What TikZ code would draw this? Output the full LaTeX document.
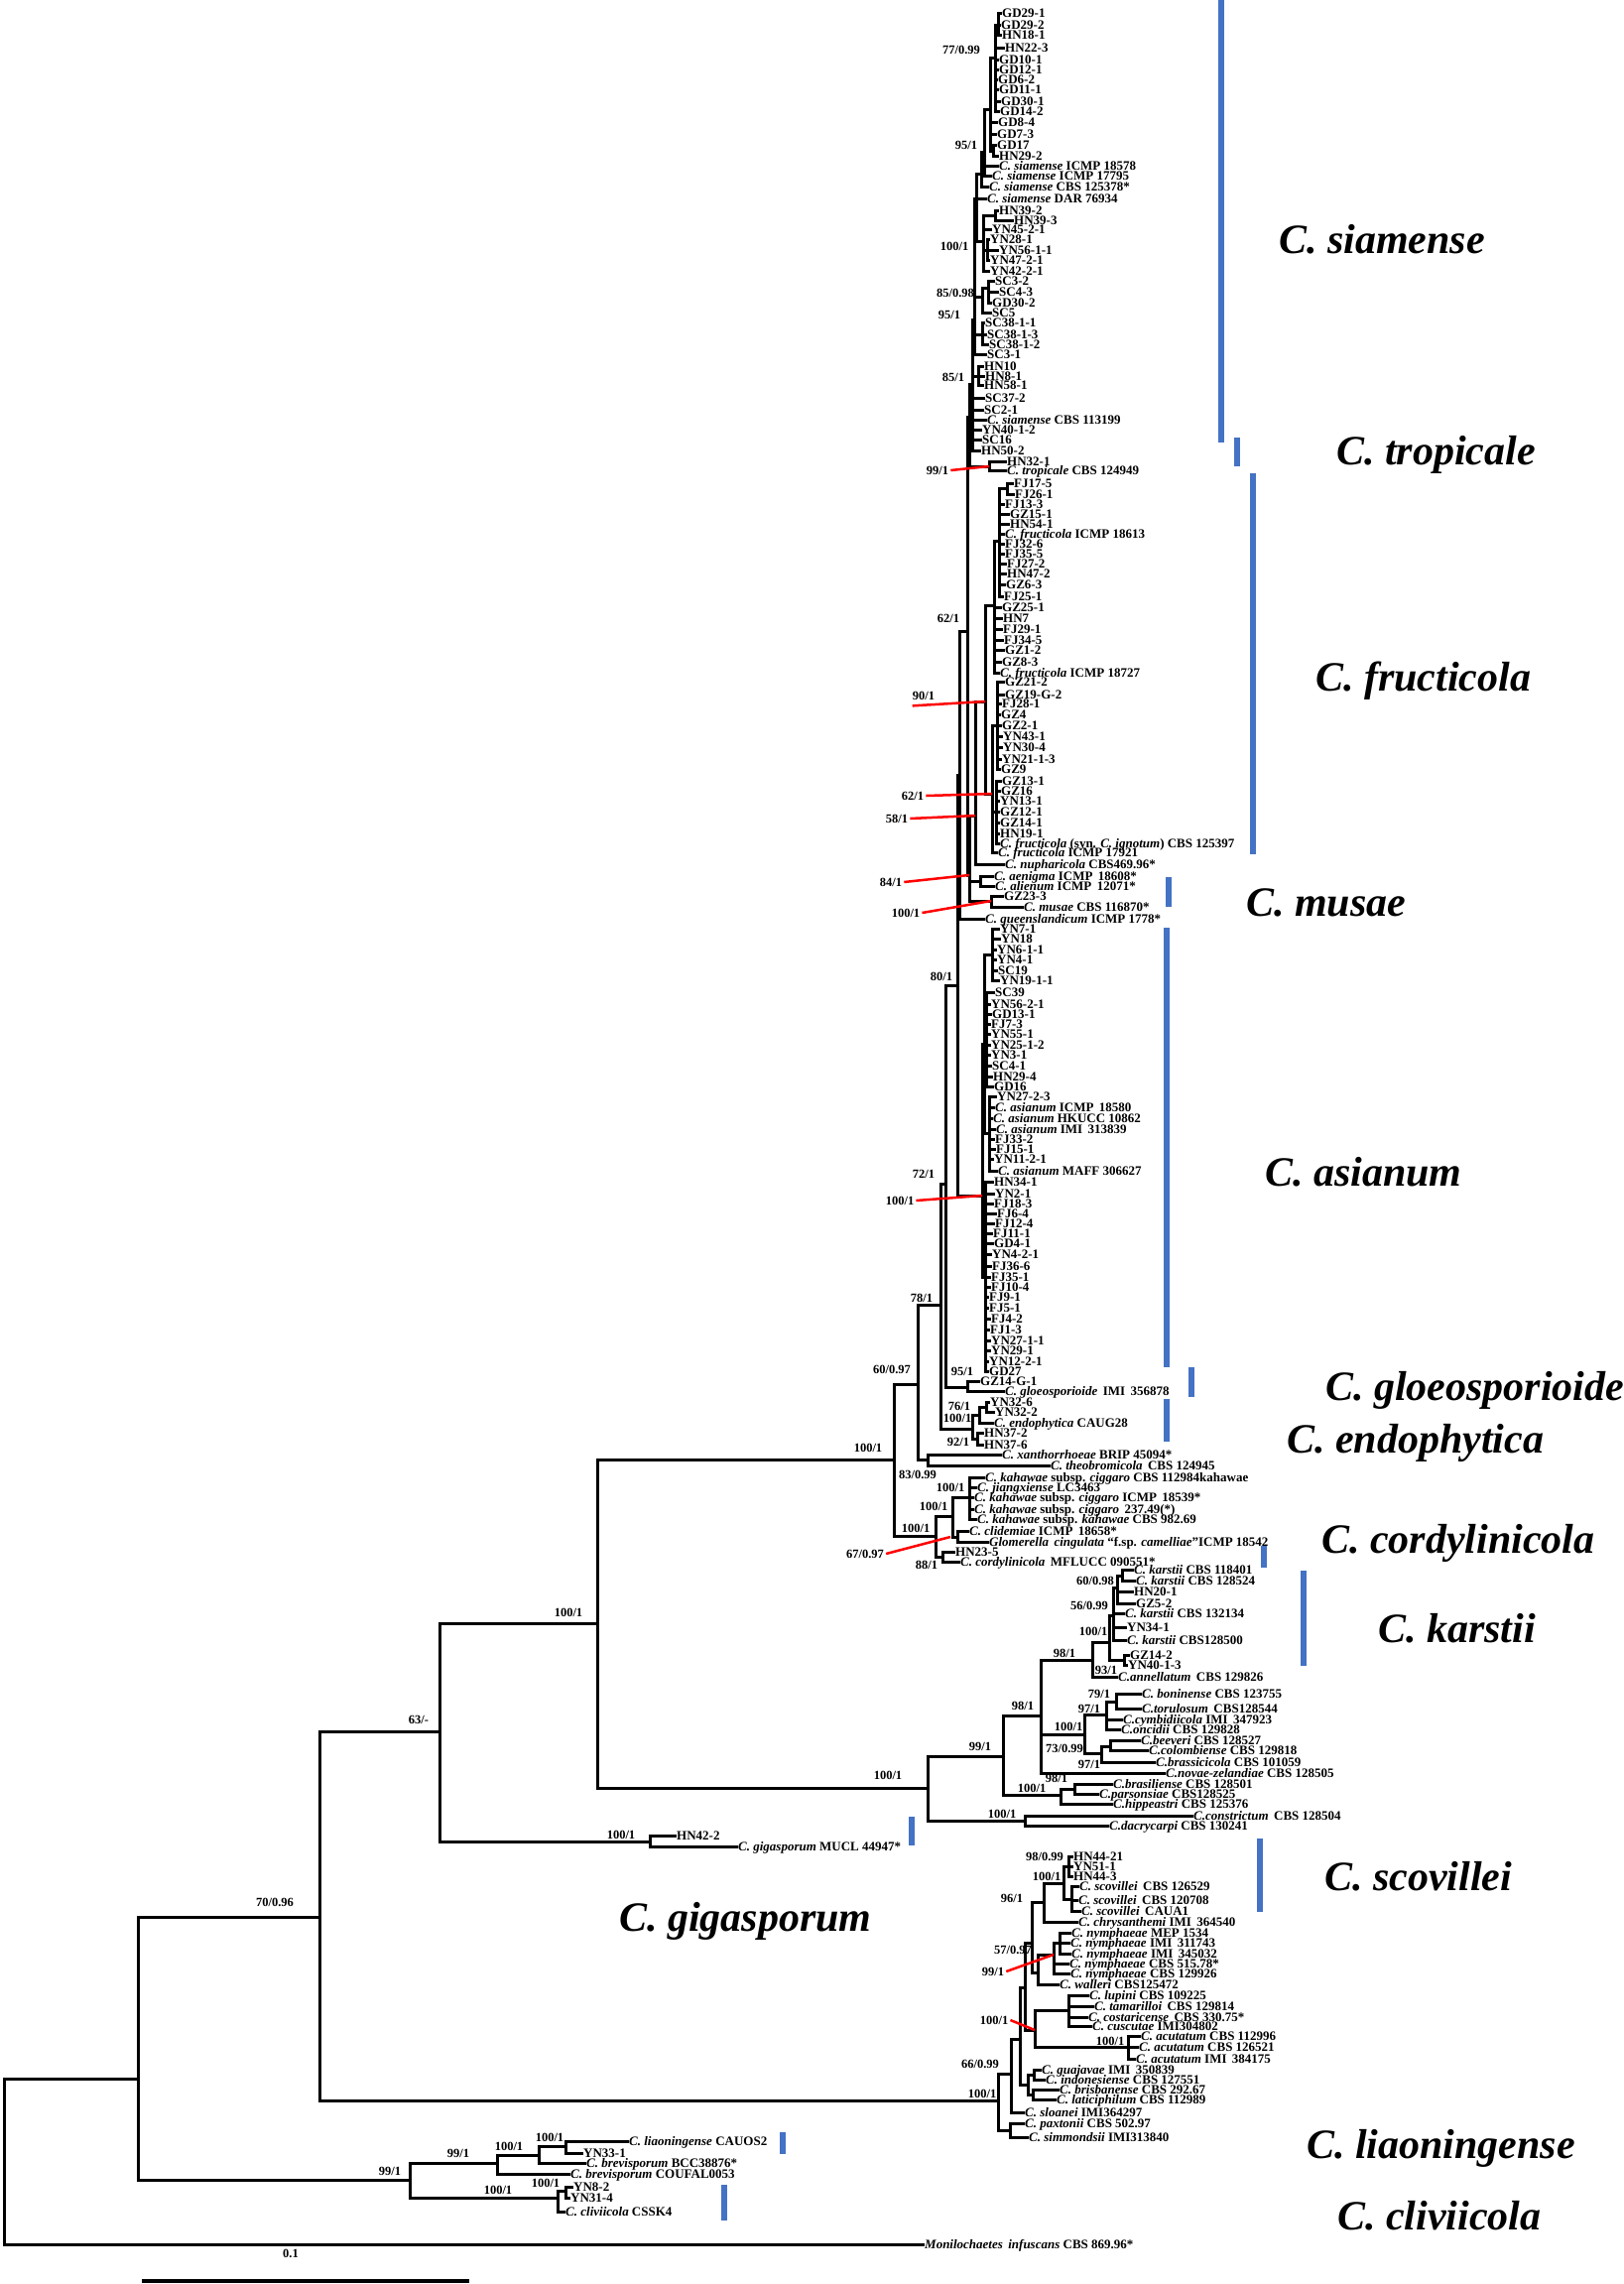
\documentclass[tikz,border=0pt]{standalone}
\usepackage{fontspec}
\setmainfont{Liberation Serif}
\definecolor{barblue}{RGB}{68,114,196}
\newcommand{\tipfont}{\fontsize{13pt}{13pt}\selectfont\bfseries}
\newcommand{\supfont}{\fontsize{12.5pt}{12.5pt}\selectfont\bfseries}
\newcommand{\cladefont}{\fontsize{42pt}{42pt}\selectfont\bfseries\itshape}
\newcommand{\intn}[4]{\coordinate (#1) at (#2,#3); \draw[br] (#4) |- (#1);}
\newcommand{\tipn}[5]{\node[tip] (#1) at (#2,#3) {#5}; \draw[br] (#4) |- (#1.west);}
\newcommand{\bsl}[4]{\node[bs] (#1) at (#2,#3) {#4};}
\tikzset{
 br/.style={line width=3pt, line cap=rect, line join=miter},
 tip/.style={anchor=west, inner sep=2pt, font=\tipfont, text height=8.6pt, text depth=0pt},
 bs/.style={inner sep=0pt, font=\supfont, text height=8.3pt, text depth=0pt},
 clade/.style={anchor=west, inner sep=0pt, font=\cladefont, text height=27.7pt, text depth=0pt},
 redl/.style={draw=red, line width=2.5pt},
 cbar/.style={fill=barblue}
}
\begin{document}
\begin{tikzpicture}[x=1pt,y=-1pt]
\fill[white] (0,0) rectangle (1636,2302);
\useasboundingbox (0,0) rectangle (1636,2302);
% ---------- backbone ----------
\coordinate (root) at (4,2177);
\intn{n140}{139}{2095}{root}
\tipn{moni}{930}{2262}{root}{\textit{Monilochaetes\, infuscans} CBS 869.96*}
\intn{n322}{322}{1932}{n140}
\intn{nlc}{413}{2197}{n140}
\intn{n443}{443}{1745}{n322}
\intn{a0}{1006}{2117}{n322}
\intn{n602}{602}{1636}{n443}
\intn{ngig}{655}{1856}{n443}
\tipn{hn422}{680}{1850}{ngig}{HN42-2}
\tipn{gigas}{742}{1861}{ngig}{\textit{C. gigasporum} MUCL 44947*}
\intn{n901}{901}{1471}{n602}
\intn{n935b}{935}{1802}{n602}
\intn{n925}{925}{1395}{n901}
\intn{nkah}{943}{1548}{n901}
\intn{n948}{948}{1315}{n925}
\intn{n83}{935}{1471}{n925}
\tipn{xan}{1008}{1466}{n83}{\textit{C. xanthorrhoeae} BRIP 45094*}
\tipn{theo}{1057}{1477}{n83}{\textit{C. theobromicola}\, CBS 124945}
\intn{n953}{953}{1193}{n948}
\intn{nendo}{980}{1440}{n948}
\intn{n965}{965}{993}{n953}
\intn{ngl}{975}{1398}{n953}
\tipn{gz14g}{986}{1392}{ngl}{GZ14-G-1}
\tipn{gloeo}{1011}{1402}{ngl}{\textit{C. gloeosporioide}\, IMI\, 356878}
\intn{nend1}{987}{1426}{nendo}
\intn{nhn37}{985}{1450}{nendo}
\intn{nyn32}{994}{1418}{nend1}
\tipn{yn326}{996}{1413}{nyn32}{YN32-6}
\tipn{yn322}{1001}{1423}{nyn32}{YN32-2}
\tipn{endo}{1000}{1434}{nend1}{\textit{C. endophytica} CAUG28}
\tipn{hn372}{990}{1444}{nhn37}{HN37-2}
\tipn{hn376}{990}{1456}{nhn37}{HN37-6}
% ---------- kahawae group ----------
\intn{nk1}{960}{1528}{nkah}
\intn{nk2}{950}{1569}{nkah}
\intn{nk3}{977}{1509}{nk1}
\intn{nk4}{965}{1549}{nk1}
\tipn{kah1}{991}{1489}{nk3}{\textit{C. kahawae} subsp. \textit{ciggaro} CBS 112984kahawae}
\tipn{jiang}{983}{1499}{nk3}{\textit{C. jiangxiense} LC3463}
\tipn{kah2}{980}{1509}{nk3}{\textit{C. kahawae} subsp. \textit{ciggaro} ICMP\, 18539*}
\tipn{kah3}{980}{1521}{nk3}{\textit{C. kahawae} subsp. \textit{ciggaro}\, 237.49(*)}
\tipn{kah4}{983}{1531}{nk3}{\textit{C. kahawae} subsp. \textit{kahawae} CBS 982.69}
\tipn{clid}{975}{1543}{nk4}{\textit{C. clidemiae} ICMP\, 18658*}
\tipn{glom}{995}{1554}{nk4}{\textit{Glomerella\, cingulata} “f.sp. \textit{camelliae}”ICMP 18542}
\tipn{hn235}{961}{1564}{nk2}{HN23-5}
\tipn{cord}{966}{1574}{nk2}{\textit{C. cordylinicola}\, MFLUCC 090551*}
% ---------- upper clades ----------
\intn{nq}{967}{781}{n965}
\intn{nasia}{990}{1205}{n965}
\intn{n62}{975}{636}{nq}
\tipn{queens}{991}{926}{nq}{\textit{C. queenslandicum} ICMP 1778*}
\intn{nsr}{977}{420}{n62}
\intn{n84}{977}{882}{n62}
% siamense
\intn{s85}{980}{387}{nsr}
\intn{ntrop}{997}{470}{nsr}
\tipn{hn321}{1013}{465}{ntrop}{HN32-1}
\tipn{trop}{1013}{474}{ntrop}{\textit{C. tropicale} CBS 124949}
\intn{s95b}{982}{322}{s85}
\intn{shn}{986}{379}{s85}
\tipn{sc372}{991}{401}{s85}{SC37-2}
\tipn{sc21}{990}{413}{s85}{SC2-1}
\tipn{sia5}{993}{423}{s85}{\textit{C. siamense} CBS 113199}
\tipn{yn4012}{988}{433}{s85}{YN40-1-2}
\tipn{sc16}{988}{443}{s85}{SC16}
\tipn{hn502}{987}{454}{s85}{HN50-2}
\tipn{hn10}{990}{369}{shn}{HN10}
\tipn{hn81}{991}{379}{shn}{HN8-1}
\tipn{hn581}{990}{388}{shn}{HN58-1}
\intn{stop}{984}{200}{s95b}
\intn{s85a}{990}{299}{s95b}
\intn{ssc38}{990}{337}{s95b}
\tipn{sc31}{993}{357}{s95b}{SC3-1}
\tipn{sc3811}{991}{325}{ssc38}{SC38-1-1}
\tipn{sc3813}{993}{337}{ssc38}{SC38-1-3}
\tipn{sc3812}{995}{347}{ssc38}{SC38-1-2}
\intn{ssc}{996}{290}{s85a}
\tipn{sc5}{998}{315}{s85a}{SC5}
\tipn{sc32}{1001}{283}{ssc}{SC3-2}
\tipn{sc43}{1005}{294}{ssc}{SC4-3}
\tipn{gd302}{998}{305}{ssc}{GD30-2}
\intn{sca}{989}{175}{stop}
\tipn{dar}{993}{200}{stop}{\textit{C. siamense} DAR 76934}
\intn{s100b}{991}{243}{stop}
\intn{s95a}{992}{153}{sca}
\tipn{sia3}{995}{188}{sca}{\textit{C. siamense} CBS 125378*}
\intn{s100}{998}{110}{s95a}
\tipn{sia1}{1005}{167}{s95a}{\textit{C. siamense} ICMP 18578}
\tipn{sia2}{998}{177}{s95a}{\textit{C. siamense} ICMP 17795}
\intn{s77}{1003}{58}{s100}
\tipn{gd84}{1004}{123}{s100}{GD8-4}
\tipn{gd73}{1003}{135}{s100}{GD7-3}
\intn{sgd17}{1001}{152}{s100}
\tipn{gd17}{1003}{146}{sgd17}{GD17}
\tipn{hn292}{1005}{157}{sgd17}{HN29-2}
\intn{sa}{1006}{25}{s77}
\tipn{gd291}{1008}{13}{sa}{GD29-1}
\tipn{gd292}{1007}{25}{sa}{GD29-2}
\tipn{hn181}{1008}{35}{sa}{HN18-1}
\tipn{hn223}{1011}{48}{s77}{HN22-3}
\tipn{gd101}{1005}{60}{s77}{GD10-1}
\tipn{gd121}{1005}{70}{s77}{GD12-1}
\tipn{gd62}{1004}{80}{s77}{GD6-2}
\tipn{gd111}{1005}{90}{s77}{GD11-1}
\tipn{gd301}{1007}{102}{s77}{GD30-1}
\tipn{gd142}{1006}{112}{s77}{GD14-2}
\intn{shn39}{1003}{217}{s100b}
\tipn{yn4521}{998}{231}{s100b}{YN45-2-1}
\intn{syn}{995}{252}{s100b}
\tipn{yn4221}{996}{273}{s100b}{YN42-2-1}
\tipn{hn392}{1005}{212}{shn39}{HN39-2}
\tipn{hn393}{1020}{222}{shn39}{HN39-3}
\tipn{yn281}{996}{241}{syn}{YN28-1}
\tipn{yn5611}{1005}{252}{syn}{YN56-1-1}
\tipn{yn4721}{996}{262}{syn}{YN47-2-1}
% fructicola / musae
\intn{n58}{983}{822}{n84}
\intn{nal}{988}{888}{n84}
\intn{nmus}{999}{908}{n84}
\tipn{aen}{1000}{883}{nal}{\textit{C. aenigma} ICMP\, 18608*}
\tipn{ali}{1001}{893}{nal}{\textit{C. alienum} ICMP\, 12071*}
\tipn{gz233}{1010}{903}{nmus}{GZ23-3}
\tipn{musae}{1030}{914}{nmus}{\textit{C. musae} CBS 116870*}
\intn{f90}{993}{707}{n58}
\tipn{nuph}{1011}{871}{n58}{\textit{C. nupharicola} CBS469.96*}
\intn{fb}{1002}{610}{f90}
\intn{f62}{1000}{800}{f90}
\intn{fa}{1007}{545}{fb}
\tipn{gz251}{1008}{612}{fb}{GZ25-1}
\tipn{hn7}{1009}{623}{fb}{HN7}
\tipn{fj291}{1009}{634}{fb}{FJ29-1}
\tipn{fj345}{1010}{645}{fb}{FJ34-5}
\tipn{gz12}{1011}{655}{fb}{GZ1-2}
\tipn{gz83}{1008}{667}{fb}{GZ8-3}
\tipn{fru2}{1006}{678}{fb}{\textit{C. fructicola} ICMP 18727}
\intn{fa1}{1015}{492}{fa}
\tipn{fj175}{1020}{487}{fa1}{FJ17-5}
\tipn{fj261}{1021}{498}{fa1}{FJ26-1}
\tipn{fj133}{1011}{508}{fa}{FJ13-3}
\tipn{gz151}{1016}{518}{fa}{GZ15-1}
\tipn{hn541}{1016}{528}{fa}{HN54-1}
\tipn{fru1}{1011}{538}{fa}{\textit{C. fructicola} ICMP 18613}
\tipn{fj326}{1011}{548}{fa}{FJ32-6}
\tipn{fj355}{1011}{558}{fa}{FJ35-5}
\tipn{fj272}{1013}{568}{fa}{FJ27-2}
\tipn{hn472}{1013}{578}{fa}{HN47-2}
\tipn{gz63}{1012}{589}{fa}{GZ6-3}
\tipn{fj251}{1010}{601}{fa}{FJ25-1}
\intn{fc1}{1005}{731}{f62}
\intn{fc2}{1004}{818}{f62}
\tipn{fru4}{1004}{859}{f62}{\textit{C. fructicola} ICMP 17921}
\tipn{gz212}{1011}{687}{fc1}{GZ21-2}
\tipn{gz19g2}{1011}{700}{fc1}{GZ19-G-2}
\tipn{fj281}{1008}{709}{fc1}{FJ28-1}
\tipn{gz4}{1007}{720}{fc1}{GZ4}
\tipn{gz21}{1008}{731}{fc1}{GZ2-1}
\tipn{yn431}{1009}{742}{fc1}{YN43-1}
\tipn{yn304}{1009}{753}{fc1}{YN30-4}
\tipn{yn2113}{1008}{765}{fc1}{YN21-1-3}
\tipn{gz9}{1007}{775}{fc1}{GZ9}
\tipn{gz131}{1008}{787}{fc2}{GZ13-1}
\tipn{gz16}{1007}{797}{fc2}{GZ16}
\tipn{yn131}{1006}{807}{fc2}{YN13-1}
\tipn{gz121}{1006}{818}{fc2}{GZ12-1}
\tipn{gz141}{1006}{829}{fc2}{GZ14-1}
\tipn{hn191}{1006}{840}{fc2}{HN19-1}
\tipn{fru3}{1006}{850}{fc2}{\textit{C. fructicola} (syn. \textit{C. ignotum}) CBS 125397}
% asianum
\intn{as1}{992}{1052}{nasia}
\intn{as2}{993}{1287}{nasia}
\intn{asa}{1000}{962}{as1}
\intn{asb}{994}{1048}{as1}
\intn{asc}{997}{1142}{as1}
\tipn{yn71}{1006}{936}{asa}{YN7-1}
\tipn{yn18}{1007}{946}{asa}{YN18}
\tipn{yn611}{1003}{957}{asa}{YN6-1-1}
\tipn{yn41}{1003}{967}{asa}{YN4-1}
\tipn{sc19}{1004}{978}{asa}{SC19}
\tipn{yn1911}{1006}{988}{asa}{YN19-1-1}
\tipn{sc39}{1001}{1000}{asb}{SC39}
\tipn{yn5621}{997}{1012}{asb}{YN56-2-1}
\tipn{gd131}{998}{1022}{asb}{GD13-1}
\tipn{fj73}{997}{1032}{asb}{FJ7-3}
\tipn{yn551}{997}{1042}{asb}{YN55-1}
\tipn{yn2512}{997}{1053}{asb}{YN25-1-2}
\tipn{yn31}{997}{1063}{asb}{YN3-1}
\tipn{sc41}{998}{1074}{asb}{SC4-1}
\tipn{hn294}{999}{1085}{asb}{HN29-4}
\tipn{gd16}{1000}{1095}{asb}{GD16}
\tipn{yn2723}{1003}{1105}{asc}{YN27-2-3}
\tipn{asi1}{1001}{1116}{asc}{\textit{C. asianum} ICMP\, 18580}
\tipn{asi2}{999}{1127}{asc}{\textit{C. asianum} HKUCC 10862}
\tipn{asi3}{1002}{1138}{asc}{\textit{C. asianum} IMI\, 313839}
\tipn{fj332}{1001}{1148}{asc}{FJ33-2}
\tipn{fj151}{1002}{1158}{asc}{FJ15-1}
\tipn{yn1121}{1000}{1168}{asc}{YN11-2-1}
\tipn{asi4}{1004}{1180}{asc}{\textit{C. asianum} MAFF 306627}
\tipn{hn341}{1000}{1191}{as2}{HN34-1}
\tipn{yn21}{1001}{1203}{as2}{YN2-1}
\tipn{fj183}{1000}{1213}{as2}{FJ18-3}
\tipn{fj64}{1003}{1223}{as2}{FJ6-4}
\tipn{fj124}{1001}{1233}{as2}{FJ12-4}
\tipn{fj111}{999}{1243}{as2}{FJ11-1}
\tipn{gd41}{1000}{1253}{as2}{GD4-1}
\tipn{yn421}{998}{1264}{as2}{YN4-2-1}
\tipn{fj366}{998}{1276}{as2}{FJ36-6}
\tipn{fj351}{997}{1287}{as2}{FJ35-1}
\tipn{fj104}{997}{1297}{as2}{FJ10-4}
\tipn{fj91}{995}{1307}{as2}{FJ9-1}
\tipn{fj51}{995}{1318}{as2}{FJ5-1}
\tipn{fj42}{997}{1329}{as2}{FJ4-2}
\tipn{fj13}{996}{1340}{as2}{FJ1-3}
\tipn{yn2711}{997}{1351}{as2}{YN27-1-1}
\tipn{yn291}{997}{1361}{as2}{YN29-1}
\tipn{yn1221}{995}{1372}{as2}{YN12-2-1}
\tipn{gd27}{995}{1382}{as2}{GD27}
% ---------- boninense / karstii ----------
\intn{n1011}{1011}{1770}{n935b}
\intn{n1033}{1033}{1835}{n935b}
\tipn{constr}{1201}{1830}{n1033}{\textit{C.constrictum}\, CBS 128504}
\tipn{dacry}{1116}{1840}{n1033}{\textit{C.dacrycarpi} CBS 130241}
\intn{n1049}{1049}{1729}{n1011}
\intn{n1069}{1069}{1809}{n1011}
\intn{n1083}{1083}{1803}{n1069}
\tipn{hipp}{1120}{1818}{n1069}{\textit{C.hippeastri} CBS 125376}
\tipn{brasil}{1120}{1798}{n1083}{\textit{C.brasiliense} CBS 128501}
\tipn{parson}{1106}{1808}{n1083}{\textit{C.parsonsiae} CBS128525}
\intn{n1101}{1101}{1673}{n1049}
\intn{n1093}{1093}{1748}{n1049}
\tipn{novae}{1173}{1787}{n1049}{\textit{C.novae-zelandiae} CBS 128505}
\intn{n1115}{1115}{1728}{n1093}
\intn{n1110}{1110}{1767}{n1093}
\intn{n1125}{1125}{1715}{n1115}
\tipn{cymb}{1130}{1733}{n1115}{\textit{C.cymbidiicola} IMI\, 347923}
\tipn{oncid}{1128}{1743}{n1115}{\textit{C.oncidii} CBS 129828}
\tipn{bonin}{1149}{1707}{n1125}{\textit{C. boninense} CBS 123755}
\tipn{torul}{1149}{1722}{n1125}{\textit{C.torulosum}\, CBS128544}
\intn{n1119b}{1119}{1760}{n1110}
\tipn{brass}{1163}{1776}{n1110}{\textit{C.brassicicola} CBS 101059}
\tipn{beev}{1148}{1754}{n1119b}{\textit{C.beeveri} CBS 128527}
\tipn{colom}{1156}{1764}{n1119b}{\textit{C.colombiense} CBS 129818}
\intn{nk0}{1118}{1655}{n1101}
\tipn{annel}{1125}{1690}{n1101}{\textit{C.annellatum}\, CBS 129826}
\intn{nkgz}{1133}{1673}{nk0}
\tipn{gz142}{1137}{1668}{nkgz}{GZ14-2}
\tipn{yn4013}{1135}{1678}{nkgz}{YN40-1-3}
\intn{nkk1}{1122}{1628}{nk0}
\intn{nkk2}{1126}{1600}{nkk1}
\tipn{kar3}{1132}{1626}{nkk1}{\textit{C. karstii} CBS 132134}
\tipn{yn341}{1134}{1640}{nkk1}{YN34-1}
\tipn{kar4}{1134}{1653}{nkk1}{\textit{C. karstii} CBS128500}
\intn{nkk3}{1131}{1588}{nkk2}
\tipn{hn201}{1141}{1604}{nkk2}{HN20-1}
\tipn{gz52}{1143}{1616}{nkk2}{GZ5-2}
\tipn{kar1}{1141}{1582}{nkk3}{\textit{C. karstii} CBS 118401}
\tipn{kar2}{1143}{1593}{nkk3}{\textit{C. karstii} CBS 128524}
% ---------- acutatum complex ----------
\intn{a1}{1019}{2090}{a0}
\intn{apax}{1018}{2147}{a0}
\tipn{paxt}{1031}{2140}{apax}{\textit{C. paxtonii} CBS 502.97}
\tipn{simm}{1035}{2154}{apax}{\textit{C. simmondsii} IMI313840}
\intn{a2}{1028}{2055}{a1}
\tipn{sloan}{1031}{2129}{a1}{\textit{C. sloanei} IMI364297}
\intn{a3}{1033}{2003}{a2}
\intn{aguaj}{1036}{2101}{a2}
\intn{ag1}{1042}{2091}{aguaj}
\intn{ag2}{1041}{2111}{aguaj}
\tipn{guaj}{1048}{2086}{ag1}{\textit{C. guajavae} IMI\, 350839}
\tipn{indon}{1052}{2096}{ag1}{\textit{C. indonesiense} CBS 127551}
\tipn{brisb}{1066}{2106}{ag2}{\textit{C. brisbanense} CBS 292.67}
\tipn{latic}{1063}{2116}{ag2}{\textit{C. laticiphilum} CBS 112989}
\intn{a4}{1040}{1958}{a3}
\intn{alup}{1043}{2046}{a3}
\intn{alup1}{1077}{2026}{alup}
\intn{aacu}{1137}{2063}{alup}
\tipn{lupini}{1096}{2011}{alup1}{\textit{C. lupini} CBS 109225}
\tipn{tamar}{1101}{2022}{alup1}{\textit{C. tamarilloi}\, CBS 129814}
\tipn{costa}{1095}{2033}{alup1}{\textit{C. costaricense}\, CBS 330.75*}
\tipn{cuscu}{1099}{2042}{alup1}{\textit{C. cuscutae} IMI304802}
\tipn{acu1}{1148}{2052}{aacu}{\textit{C. acutatum} CBS 112996}
\tipn{acu2}{1146}{2063}{aacu}{\textit{C. acutatum} CBS 126521}
\tipn{acu3}{1143}{2075}{aacu}{\textit{C. acutatum} IMI\, 384175}
\intn{a5}{1052}{1917}{a4}
\intn{a6}{1046}{1988}{a4}
\intn{asco}{1072}{1898}{a5}
\tipn{chrys}{1085}{1937}{a5}{\textit{C. chrysanthemi} IMI\, 364540}
\intn{asco1}{1077}{1881}{asco}
\intn{asco2}{1080}{1914}{asco}
\tipn{hn4421}{1080}{1871}{asco1}{HN44-21}
\tipn{yn511}{1080}{1881}{asco1}{YN51-1}
\tipn{hn443}{1080}{1891}{asco1}{HN44-3}
\tipn{sco1}{1086}{1901}{asco2}{\textit{C. scovillei}\, CBS 126529}
\tipn{sco2}{1085}{1915}{asco2}{\textit{C. scovillei}\, CBS 120708}
\tipn{sco3}{1088}{1926}{asco2}{\textit{C. scovillei}\, CAUA1}
\intn{anym}{1062}{1970}{a6}
\tipn{walleri}{1066}{2000}{a6}{\textit{C. walleri} CBS125472}
\intn{anym1}{1068}{1958}{anym}
\tipn{nym1}{1078}{1948}{anym1}{\textit{C. nymphaeae} MEP 1534}
\tipn{nym2}{1077}{1958}{anym1}{\textit{C. nymphaeae} IMI\, 311743}
\tipn{nym3}{1078}{1969}{anym1}{\textit{C. nymphaeae} IMI\, 345032}
\tipn{nym4}{1076}{1979}{anym}{\textit{C. nymphaeae} CBS 515.78*}
\tipn{nym5}{1077}{1989}{anym}{\textit{C. nymphaeae} CBS 129926}
% ---------- liaoningense / cliviicola ----------
\intn{nl1}{501}{2180}{nlc}
\intn{ncl}{562}{2215}{nlc}
\intn{nl2}{543}{2172}{nl1}
\tipn{brev2}{573}{2191}{nl1}{\textit{C. brevisporum} COUFAL0053}
\intn{nl3}{570}{2163}{nl2}
\tipn{brev1}{589}{2180}{nl2}{\textit{C. brevisporum} BCC38876*}
\tipn{liao}{632}{2158}{nl3}{\textit{C. liaoningense} CAUOS2}
\tipn{yn331}{586}{2170}{nl3}{YN33-1}
\intn{ncl1}{570}{2208}{ncl}
\tipn{cliv}{568}{2229}{ncl}{\textit{C. cliviicola} CSSK4}
\tipn{yn82}{576}{2204}{ncl1}{YN8-2}
\tipn{yn314}{573}{2215}{ncl1}{YN31-4}
% ---------- support values ----------
\bsl{b1}{969}{50}{77/0.99}
\bsl{b2}{974}{146}{95/1}
\bsl{b3}{962}{248}{100/1}
\bsl{b4}{963}{295}{85/0.98}
\bsl{b5}{957}{317}{95/1}
\bsl{b6}{961}{380}{85/1}
\bsl{b7}{956}{623}{62/1}
\bsl{b8}{949}{984}{80/1}
\bsl{b9}{931}{1183}{72/1}
\bsl{b10}{929}{1308}{78/1}
\bsl{b11}{899}{1380}{60/0.97}
\bsl{b12}{970}{1382}{95/1}
\bsl{b13}{967}{1417}{76/1}
\bsl{b14}{965}{1429}{100/1}
\bsl{b15}{966}{1453}{92/1}
\bsl{b16}{875}{1459}{100/1}
\bsl{b17}{925}{1486}{83/0.99}
\bsl{b18}{958}{1499}{100/1}
\bsl{b19}{941}{1518}{100/1}
\bsl{b20}{923}{1540}{100/1}
\bsl{b21}{934}{1577}{88/1}
\bsl{b22}{1104}{1593}{60/0.98}
\bsl{b23}{1098}{1618}{56/0.99}
\bsl{b24}{1102}{1644}{100/1}
\bsl{b25}{1073}{1666}{98/1}
\bsl{b26}{1115}{1683}{93/1}
\bsl{b27}{1031}{1719}{98/1}
\bsl{b28}{1108}{1707}{79/1}
\bsl{b29}{1098}{1722}{97/1}
\bsl{b30}{1077}{1740}{100/1}
\bsl{b31}{1073}{1762}{73/0.99}
\bsl{b32}{1098}{1778}{97/1}
\bsl{b33}{1065}{1792}{98/1}
\bsl{b34}{1040}{1802}{100/1}
\bsl{b35}{988}{1760}{99/1}
\bsl{b36}{1010}{1828}{100/1}
\bsl{b37}{895}{1789}{100/1}
\bsl{b38}{573}{1625}{100/1}
\bsl{b39}{422}{1733}{63/-}
\bsl{b40}{277}{1917}{70/0.96}
\bsl{b41}{626}{1849}{100/1}
\bsl{b42}{1053}{1871}{98/0.99}
\bsl{b43}{1055}{1891}{100/1}
\bsl{b44}{1020}{1913}{96/1}
\bsl{b45}{1021}{1965}{57/0.97}
\bsl{b46}{1119}{2057}{100/1}
\bsl{b47}{988}{2080}{66/0.99}
\bsl{b48}{990}{2110}{100/1}
\bsl{b49}{554}{2154}{100/1}
\bsl{b50}{513}{2163}{100/1}
\bsl{b51}{462}{2170}{99/1}
\bsl{b52}{393}{2188}{99/1}
\bsl{b53}{550}{2200}{100/1}
\bsl{b54}{502}{2207}{100/1}
\bsl{b55}{293}{2271}{0.1}
% red-pointer support values
\bsl{r1}{945}{474}{99/1}
\bsl{r2}{931}{701}{90/1}
\bsl{r3}{920}{802}{62/1}
\bsl{r4}{904}{825}{58/1}
\bsl{r5}{898}{889}{84/1}
\bsl{r6}{913}{920}{100/1}
\bsl{r7}{907}{1210}{100/1}
\bsl{r8}{872}{1566}{67/0.97}
\bsl{r9}{1001}{1987}{99/1}
\bsl{r10}{1002}{2036}{100/1}
\draw[redl] ([xshift=2pt]r1.east) -- (ntrop);
\draw[redl] ([yshift=-6pt]r2.south west) -- (f90);
\draw[redl] ([xshift=2pt]r3.east) -- (f62);
\draw[redl] ([xshift=2pt]r4.east) -- (n58);
\draw[redl] ([xshift=2pt]r5.east) -- (n84);
\draw[redl] ([xshift=2pt]r6.east) -- (nmus);
\draw[redl] ([xshift=2pt]r7.east) -- (nasia);
\draw[redl] ([xshift=2pt]r8.east) -- ([xshift=-7pt]nk4);
\draw[redl] ([xshift=2pt]r9.east) -- (anym);
\draw[redl] ([xshift=2pt]r10.east) -- (alup);
% scale bar
\draw[line width=4pt] (143,2299) -- (473,2299);
% ---------- clade bars ----------
\fill[cbar] (1228,0) rectangle (1234,446);
\fill[cbar] (1244,441) rectangle (1250,470);
\fill[cbar] (1260,477) rectangle (1266,861);
\fill[cbar] (1175,884) rectangle (1181,914);
\fill[cbar] (1173,935) rectangle (1179,1378);
\fill[cbar] (1198,1378) rectangle (1204,1408);
\fill[cbar] (1173,1410) rectangle (1179,1453);
\fill[cbar] (1271,1558) rectangle (1277,1580);
\fill[cbar] (1311,1583) rectangle (1317,1679);
\fill[cbar] (1267,1853) rectangle (1273,1927);
\fill[cbar] (916,1831) rectangle (922,1860);
\fill[cbar] (786,2149) rectangle (792,2171);
\fill[cbar] (727,2202) rectangle (733,2238);
% ---------- clade names ----------
\node[clade] (csiam) at (1289,242) {C. siamense};
\node[clade] (ctrop) at (1347,455) {C. tropicale};
\node[clade] (cfruc) at (1326,683) {C. fructicola};
\node[clade] (cmusa) at (1256,910) {C. musae};
\node[clade] (casia) at (1275,1182) {C. asianum};
\node[clade] (cgloe) at (1336,1398) {C. gloeosporioide};
\node[clade] (cendo) at (1297,1451) {C. endophytica};
\node[clade] (ccord) at (1332,1552) {C. cordylinicola};
\node[clade] (ckars) at (1389,1642) {C. karstii};
\node[clade] (cscov) at (1335,1892) {C. scovillei};
\node[clade] (cgiga) at (624,1933) {C. gigasporum};
\node[clade] (cliao) at (1317,2162) {C. liaoningense};
\node[clade] (ccliv) at (1348,2234) {C. cliviicola};
\end{tikzpicture}
\end{document}
